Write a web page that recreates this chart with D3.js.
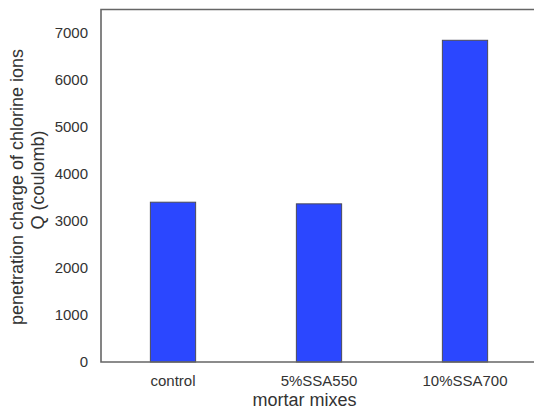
<!DOCTYPE html>
<html>
<head>
<meta charset="utf-8">
<script src="https://cdn.jsdelivr.net/npm/d3@7"></script>
<style>
  html, body { margin: 0; padding: 0; background: #fff; }
  svg { display: block; }
  text { font-family: "Liberation Sans", Arial, sans-serif; fill: #333; }
</style>
</head>
<body>
<svg id="chart" width="534" height="412"></svg>
<script>
// Chloride-ion penetration charge for each mortar mix
const categories = ["control", "5%SSA550", "10%SSA700"];
const values = [3400, 3365, 6845];
const yTicks = [0, 1000, 2000, 3000, 4000, 5000, 6000, 7000];
const yTitle = ["penetration charge of chlorine ions", "Q (coulomb)"];
const xTitle = "mortar mixes";

const svg = d3.select("#chart");
const plotLeft = 101, plotTop = 9.5, plotBottom = 362, plotRight = 538;

const x = d3.scaleBand()
  .domain(categories)
  .range([plotLeft - 1, plotRight])
  .paddingInner(0.69)
  .paddingOuter(0.345);

const y = d3.scaleLinear()
  .domain([0, 7500])
  .range([plotBottom, plotTop]);

// bars
svg.append("g")
  .selectAll("rect")
  .data(values)
  .join("rect")
  .attr("x", (d, i) => x(categories[i]))
  .attr("width", x.bandwidth())
  .attr("y", d => y(d))
  .attr("height", d => y(0) - y(d))
  .attr("fill", "#2b47ff")
  .attr("stroke", "#4a4a5a")
  .attr("stroke-width", 1);

// frame: left, top and bottom edges
const frame = svg.append("g").attr("stroke", "#666").attr("stroke-width", 1.6).attr("fill", "none");
frame.append("path").attr("d", `M540,${plotTop}H${plotLeft}V${plotBottom}H540`);

// y axis tick labels (no tick marks)
const yAxis = d3.axisLeft(y).tickValues(yTicks).tickFormat(d3.format("d")).tickSize(0).tickPadding(13);
const gy = svg.append("g").attr("transform", `translate(${plotLeft},0)`).call(yAxis);
gy.select(".domain").remove();
gy.selectAll("text").attr("font-size", 15).attr("fill", "#333")
  .attr("font-family", "Liberation Sans, Arial, sans-serif");

// x axis category labels
const xAxis = d3.axisBottom(x).tickSize(0).tickPadding(13);
const gx = svg.append("g").attr("transform", `translate(0,${plotBottom})`).call(xAxis);
gx.select(".domain").remove();
gx.selectAll("text").attr("font-size", 15).attr("fill", "#333")
  .attr("font-family", "Liberation Sans, Arial, sans-serif");

// axis titles
svg.append("text")
  .attr("x", (plotLeft + 534) / 2 - 13)
  .attr("y", 406)
  .attr("text-anchor", "middle")
  .attr("font-size", 18)
  .text(xTitle);

const yt = svg.append("text")
  .attr("transform", "translate(0,187) rotate(-90)")
  .attr("text-anchor", "middle")
  .attr("font-size", 18);
yt.append("tspan").attr("x", 0).attr("y", 23).text(yTitle[0]);
yt.append("tspan").attr("x", 7).attr("y", 44).text(yTitle[1]);
</script>
</body>
</html>
